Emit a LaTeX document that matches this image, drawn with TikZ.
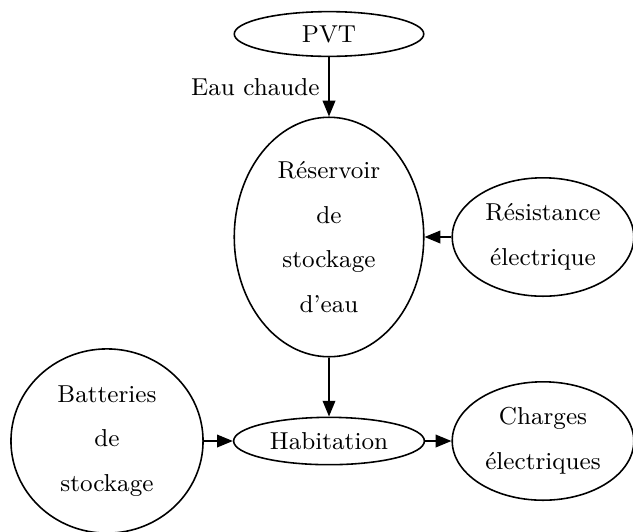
\documentclass[tikz,border=0pt]{standalone}
\usepackage{amsmath,amssymb,amsfonts}
\usepackage{tikz}
\usetikzlibrary{shapes.geometric,arrows.meta}

\begin{document}
\begin{tikzpicture}[x=0.38pt, y=-0.38pt, font=\fontsize{9.3pt}{11pt}\selectfont]
\tikzstyle{bulle} = [ellipse, draw, semithick, inner sep=0pt, align=center]
\tikzstyle{arrow} = [semithick,-{Triangle[length=6pt,width=4.8pt]}]

\useasboundingbox (0,0) rectangle (633,531);

\node[bulle, minimum width=72pt, minimum height=17pt] (pvt) at (329,34) {PVT};
\node[bulle, minimum width=72pt, minimum height=91pt] (reservoir) at (329,237) {R\'eservoir\\[6pt]de\\[6pt]stockage\\[6pt]d'eau};
\node[bulle, minimum width=69pt, minimum height=45pt] (resistance) at (543,237) {R\'esistance\\[6pt]\'electrique};
\node[bulle, minimum width=72.5pt, minimum height=18pt] (habitation) at (329,441) {Habitation};
\node[bulle, minimum width=73pt, minimum height=70pt] (batteries) at (107,441) {Batteries\\[6pt]de\\[6pt]stockage};
\node[bulle, minimum width=69pt, minimum height=45pt] (charges) at (543,441) {Charges\\[6pt]\'electriques};

\draw[arrow] (pvt) -- node[midway, left] {Eau chaude} (reservoir);
\draw[arrow] (resistance) -- (reservoir);
\draw[arrow] (reservoir) -- (habitation);
\draw[arrow] (batteries) -- (habitation);
\draw[arrow] (habitation) -- (charges);
\end{tikzpicture}
\end{document}
